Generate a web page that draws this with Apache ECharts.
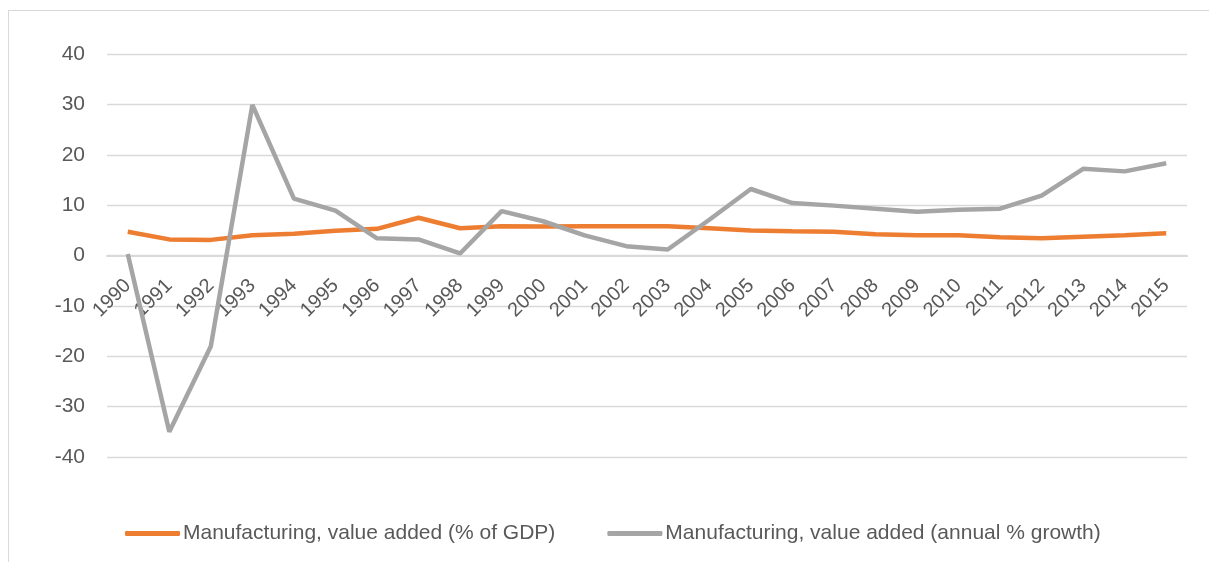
<!DOCTYPE html>
<html><head><meta charset="utf-8">
<script src="https://cdn.jsdelivr.net/npm/echarts@6/dist/echarts.min.js"></script>
<style>
html,body{margin:0;padding:0;background:#fff;}
#frame{position:absolute;left:8px;top:10px;width:1230px;height:600px;border:1px solid #d9d9d9;box-sizing:border-box;}
#c{position:absolute;left:0;top:0;width:1209px;height:562px;}
</style></head>
<body>
<div id="frame"></div>
<div id="c"></div>
<script>
const years = ['1990','1991','1992','1993','1994','1995','1996','1997','1998','1999','2000','2001','2002','2003','2004','2005','2006','2007','2008','2009','2010','2011','2012','2013','2014','2015'];
const pctGDP = [4.7,3.2,3.1,4.0,4.3,4.9,5.3,7.5,5.4,5.8,5.75,5.8,5.8,5.8,5.4,4.95,4.8,4.7,4.2,4.0,4.0,3.6,3.4,3.7,4.0,4.4];
const growth = [0.3,-35.0,-18.0,29.9,11.3,8.9,3.4,3.2,0.4,8.8,6.8,4.0,1.85,1.2,7.1,13.2,10.4,9.9,9.3,8.7,9.1,9.3,11.9,17.2,16.7,18.3];
const yTicks = {min:-40,max:40,interval:10};
const seriesNames = ['Manufacturing, value added (% of GDP)','Manufacturing, value added (annual % growth)'];

const chart = echarts.init(document.getElementById('c'));
const font = 'Liberation Sans, Arial, sans-serif';
const gridTop = 54, gridBottom = 105, H = 562;
const plotH = H - gridTop - gridBottom;
const zeroOffset = -plotH * (0 - yTicks.min) / (yTicks.max - yTicks.min);
chart.setOption({
  animation:false,
  grid:{left:107,right:22,top:gridTop,bottom:gridBottom,containLabel:false},
  xAxis:{type:'category',data:years,boundaryGap:true,position:'bottom',offset:zeroOffset,
    axisLine:{onZero:false,lineStyle:{color:'#d9d9d9',width:2}},
    axisTick:{show:false},
    axisLabel:{rotate:45,color:'#595959',fontSize:20,fontFamily:font,interval:0,margin:27}},
  yAxis:{type:'value',min:yTicks.min,max:yTicks.max,interval:yTicks.interval,
    axisLine:{show:false},axisTick:{show:false},
    splitLine:{lineStyle:{color:'#d9d9d9',width:1.3}},
    axisLabel:{color:'#595959',fontSize:21,fontFamily:font,margin:22}},
  legend:{top:518,left:120,itemWidth:55,itemHeight:5,itemGap:52,icon:'roundRect',
    textStyle:{color:'#595959',fontSize:21,fontFamily:font,padding:[0,0,0,-2]},
    data:seriesNames},
  series:[
    {name:seriesNames[0],type:'line',data:pctGDP,symbol:'none',color:'#ED7D31',lineStyle:{width:4.5,color:'#ED7D31'}},
    {name:seriesNames[1],type:'line',data:growth,symbol:'none',color:'#A5A5A5',lineStyle:{width:4.5,color:'#A5A5A5'}}
  ]
});
</script>
</body></html>
